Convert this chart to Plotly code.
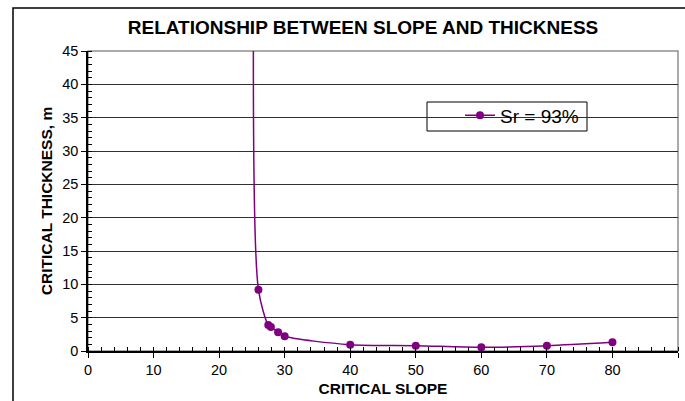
import plotly.graph_objects as go

# Data
critical_slope = [25.3, 26.0, 27.5, 27.9, 29.0, 30.0, 40.0, 50.0, 60.0, 70.0, 80.0]
critical_thickness = [65.0, 9.2, 3.9, 3.6, 2.8, 2.2, 0.95, 0.8, 0.55, 0.8, 1.3]
series_name = "Sr = 93%"

x_ticks = [0, 10, 20, 30, 40, 50, 60, 70, 80, 90]
y_ticks = [0, 5, 10, 15, 20, 25, 30, 35, 40, 45]

FONT = "Arial, Liberation Sans, sans-serif"
PURPLE = "#800080"

L, R, T, B = 88, 678, 51, 351
PW, PH = R - L, B - T

fig = go.Figure()
fig.add_trace(go.Scatter(
    x=critical_slope, y=critical_thickness, name=series_name,
    mode="lines+markers",
    line=dict(color=PURPLE, width=1.5, shape="spline", smoothing=0.8),
    marker=dict(color=PURPLE, size=8),
    showlegend=True,
))

fig.update_layout(
    width=685, height=401,
    margin=dict(l=L, r=685 - R, t=T, b=401 - B, autoexpand=False),
    paper_bgcolor="white", plot_bgcolor="white",
    font=dict(family=FONT, color="black", size=14),
    title=dict(text="<b>RELATIONSHIP BETWEEN SLOPE AND THICKNESS</b>",
               x=363 / 685, xanchor="center", y=1 - 27 / 401, yanchor="middle",
               font=dict(size=19, family=FONT)),
    legend=dict(x=(460 - L) / PW, y=(B - 96.5) / PH, xanchor="left", yanchor="top",
                bgcolor="rgba(0,0,0,0)", borderwidth=0,
                font=dict(size=19, family=FONT), itemwidth=30),
    xaxis=dict(range=[0, 90], tickvals=x_ticks, ticktext=[str(v) for v in x_ticks],
               showgrid=False, zeroline=False, automargin=False,
               showline=True, linecolor="black", linewidth=1.5,
               ticks="outside", ticklen=5, tickcolor="black",
               minor=dict(dtick=2, ticks="inside", ticklen=4, tickcolor="black"),
               title=dict(text="<b>CRITICAL SLOPE</b>", font=dict(size=15.5), standoff=6),
               tickfont=dict(size=14.5)),
    yaxis=dict(range=[0, 45], tickvals=y_ticks, ticktext=[str(v) for v in y_ticks],
               showgrid=True, gridcolor="#303030", gridwidth=1, zeroline=False,
               automargin=False,
               showline=True, linecolor="black", linewidth=1.5,
               ticks="outside", ticklen=5, tickcolor="black",
               minor=dict(dtick=1, ticks="inside", ticklen=4, tickcolor="black"),
               title=dict(text="<b>CRITICAL THICKNESS, m</b>", font=dict(size=15.5), standoff=6),
               tickfont=dict(size=14.5)),
)

# plot area border (top/right, gray)
fig.add_shape(type="rect", xref="paper", yref="paper", x0=0, y0=0, x1=1, y1=1,
              line=dict(color="#909090", width=1.5), layer="below")
# legend box
fig.add_shape(type="rect", xref="paper", yref="paper",
              x0=(427 - L) / PW, x1=(587 - L) / PW,
              y0=(B - 131) / PH, y1=(B - 102) / PH,
              line=dict(color="black", width=1), fillcolor="white", layer="below")
# outer chart-area border
fig.add_shape(type="rect", xref="paper", yref="paper",
              x0=(13 - L) / PW, y0=-0.3, x1=1.2, y1=(B - 8) / PH,
              line=dict(color="black", width=1.5), layer="below")

fig.write_html("out.html", config={"displayModeBar": False},
               post_script="document.body.style.margin='0';document.body.style.padding='0';")
